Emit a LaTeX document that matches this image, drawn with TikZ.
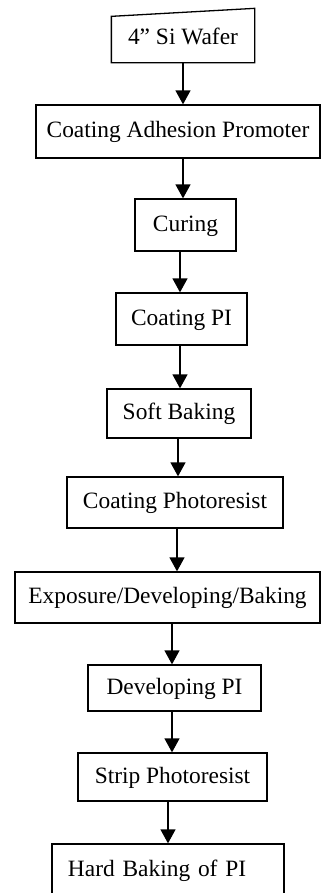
\documentclass[tikz,border=0pt]{standalone}
\usepackage{fontspec}
\setmainfont{Liberation Serif}
\usepackage{tikz}
\usetikzlibrary{arrows.meta}
\tikzset{FCbox/.style={shape=rectangle,draw,line width=1.3bp,inner sep=0pt,font=\fontsize{23.5}{27}\selectfont,text height=17bp,text depth=5bp}}
\tikzset{FCarrow/.style={line width=1.3bp,-{Triangle[width=15bp,length=14bp]}}}

\begin{document}
\begin{tikzpicture}[x=1bp,y=-1bp]
	\useasboundingbox (0,0) rectangle (321,893);
	\clip (0,0) rectangle (321,893);
	\node[FCbox,draw=none,minimum width=142bp,minimum height=48bp] (W) at (183,38) {4'' Si Wafer};
	\draw[line width=1.3bp] (W.south west) -- (W.south east) -- ([yshift=5bp]W.north east) -- ([yshift=-3bp]W.north west) -- cycle;
	\node[FCbox,minimum width=284bp,minimum height=53bp] (AP) at (178,131.5) {Coating Adhesion Promoter};
	\node[FCbox,minimum width=101bp,minimum height=52bp] (C) at (185.5,225) {Curing};
	\node[FCbox,minimum width=131bp,minimum height=52bp] (PI) at (181.5,319) {Coating PI};
	\node[FCbox,minimum width=144bp,minimum height=49bp] (SB) at (179,413.5) {Soft Baking};
	\node[FCbox,minimum width=216bp,minimum height=51bp] (PR) at (175,502.5) {Coating Photoresist};
	\node[FCbox,minimum width=305bp,minimum height=51bp] (E) at (167.5,597.5) {Exposure/Developing/Baking};
	\node[FCbox,minimum width=173bp,minimum height=46bp] (D) at (174.5,688) {Developing PI};
	\node[FCbox,minimum width=189bp,minimum height=48bp] (S) at (172.5,777) {Strip Photoresist};
	\node[FCbox,minimum width=232bp,minimum height=52bp,text width=200bp,align=left] (H) at (168,870) {Hard Baking of PI};
	%
	\path[FCarrow]
	(W.south -| 183,0) edge (AP.north -| 183,0)
	(AP.south -| 183,0) edge (C.north -| 183,0)
	(C.south -| 180,0) edge (PI.north -| 180,0)
	(PI.south -| 180,0) edge (SB.north -| 180,0)
	(SB.south -| 178,0) edge (PR.north -| 178,0)
	(PR.south -| 177,0) edge (E.north -| 177,0)
	(E.south -| 172,0) edge (D.north -| 172,0)
	(D.south -| 172,0) edge (S.north -| 172,0)
	(S.south -| 168,0) edge (H.north -| 168,0);
\end{tikzpicture}
\end{document}
